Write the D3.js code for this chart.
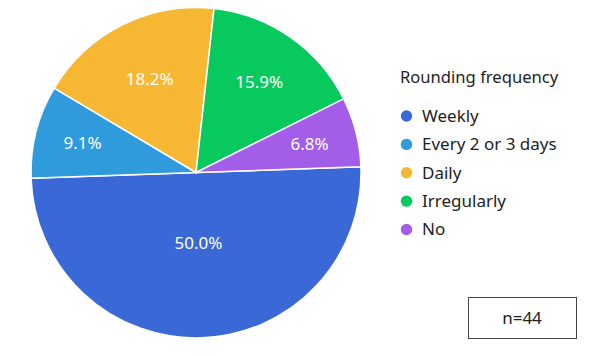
<!DOCTYPE html>
<html><head><meta charset="utf-8">
<script src="https://cdn.jsdelivr.net/npm/d3@7"></script>
<style>body{margin:0;background:#fff;font-family:"Noto Sans",sans-serif}</style>
</head><body><svg id="c" width="597" height="356"></svg>
<script>
const categories = ["Weekly","Every 2 or 3 days","Daily","Irregularly","No"];
const values = [50.0, 9.1, 18.2, 15.9, 6.8];
const colors = ["#3A68D6","#2F9ADC","#F6B732","#08C95E","#A35DE8"];
const legendTitle = "Rounding frequency";
const noteText = "n=44";

const svg = d3.select("#c");
const cx = 196, cy = 172.5, r = 165;
const a0 = 88 * Math.PI / 180;
const pie = d3.pie().sort(null).value(d => d).startAngle(a0).endAngle(a0 + 2*Math.PI);
const arcs = pie(values);
const arc = d3.arc().innerRadius(0).outerRadius(r);
const labelR = [0.43, 0.71, 0.63, 0.67, 0.71];
const g = svg.append("g").attr("transform", `translate(${cx},${cy})`);
g.selectAll("path").data(arcs).join("path")
  .attr("d", arc).attr("fill", (d,i) => colors[i])
  .attr("stroke", "#fff").attr("stroke-width", 1.5);
g.selectAll("text").data(arcs).join("text")
  .attr("transform", (d,i) => {
    const rr = r * labelR[i];
    const c = d3.arc().innerRadius(rr).outerRadius(rr).centroid(d);
    return `translate(${c})`;
  })
  .attr("text-anchor","middle").attr("dy","0.35em")
  .attr("fill","#fff").attr("font-size",17)
  .text(d => d.value.toFixed(1) + "%");

const lg = svg.append("g");
lg.append("text").attr("x", 400).attr("y", 83).attr("font-size", 16.6).attr("fill", "#222").text(legendTitle);
const ly = d3.scalePoint().domain(categories).range([116, 229.5]);
const items = lg.selectAll("g.it").data(categories).join("g").attr("class","it")
  .attr("transform", d => `translate(406.5,${ly(d)})`);
items.append("circle").attr("r", 5.7).attr("fill", (d,i) => colors[i]);
items.append("text").attr("x", 15.5).attr("dy","0.35em").attr("font-size",17).attr("fill","#222").text(d => d);

svg.append("rect").attr("x",468.5).attr("y",297.5).attr("width",108).attr("height",41)
  .attr("fill","#fff").attr("stroke","#444").attr("stroke-width",1);
svg.append("text").attr("x",522).attr("y",318).attr("dy","0.35em").attr("text-anchor","middle")
  .attr("font-size",17).attr("fill","#222").text(noteText);
</script></body></html>
